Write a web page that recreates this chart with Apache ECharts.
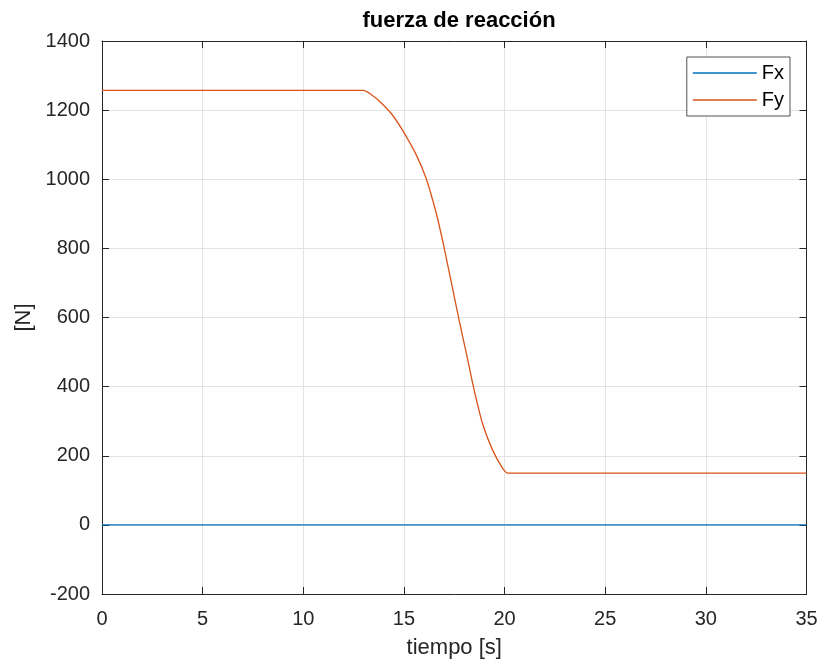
<!DOCTYPE html>
<html>
<head>
<meta charset="utf-8">
<script src="https://cdn.jsdelivr.net/npm/echarts@6/dist/echarts.min.js"></script>
<style>html,body{margin:0;padding:0;background:#fff;}#c{width:821px;height:664px;}</style>
</head>
<body>
<div id="c"></div>
<script>
const xTicks = [0, 5, 10, 15, 20, 25, 30, 35];
const yTicks = [-200, 0, 200, 400, 600, 800, 1000, 1200, 1400];
const tFx = [0, 35];
const fx = [0, 0];
const tFy = [0, 13, 13.4, 13.8, 14.4, 14.95, 15.6, 16.1, 16.6, 16.95, 17.2, 17.45, 17.75, 18.1, 18.45, 18.9, 19.4, 19.9, 20.15, 35];
const fy = [1257, 1257, 1244, 1225, 1188, 1140, 1072, 1003, 903, 815, 745, 675, 590, 497, 400, 294, 217, 164, 150, 150];

const font = 'Liberation Sans, Arial, Helvetica, sans-serif';
const axisColor = '#262626';
const chart = echarts.init(document.getElementById('c'));
chart.setOption({
  animation: false,
  backgroundColor: '#ffffff',
  title: {
    text: 'fuerza de reacción',
    left: 454, top: 5, textAlign: 'center',
    textStyle: { fontFamily: font, fontSize: 22, fontWeight: 'bold', color: '#000' }
  },
  legend: {
    orient: 'vertical',
    right: 31, top: 57,
    data: ['Fx', 'Fy'],
    icon: 'rect',
    itemWidth: 64, itemHeight: 1.5,
    itemGap: 7,
    padding: [6, 6, 6, 6],
    borderColor: axisColor, borderWidth: 0.8,
    backgroundColor: '#fff',
    textStyle: { fontFamily: font, fontSize: 20, color: '#000', padding: [0, 0, 0, 0] }
  },
  grid: { left: 102, top: 41, right: 14.5, bottom: 70, containLabel: false },
  xAxis: [{
    type: 'value', min: 0, max: 35, interval: 5,
    name: 'tiempo [s]', nameLocation: 'middle', nameGap: 43,
    nameTextStyle: { fontFamily: font, fontSize: 22, color: axisColor },
    axisLine: { show: true, onZero: false, lineStyle: { color: axisColor, width: 1 } },
    axisTick: { show: true, inside: true, length: 7, lineStyle: { color: axisColor } },
    axisLabel: { fontFamily: font, fontSize: 20, color: axisColor, margin: 15,
      formatter: v => xTicks.includes(v) ? String(v) : '' },
    splitLine: { show: true, lineStyle: { color: '#e3e3e3', width: 1 } }
  }, {
    type: 'value', position: 'top', min: 0, max: 35, interval: 5,
    axisLine: { show: true, onZero: false, lineStyle: { color: axisColor, width: 1 } },
    axisTick: { show: true, inside: true, length: 7, lineStyle: { color: axisColor } },
    axisLabel: { show: false }, splitLine: { show: false }
  }],
  yAxis: [{
    type: 'value', min: -200, max: 1400, interval: 200,
    name: '[N]', nameLocation: 'middle', nameGap: 67,
    nameTextStyle: { fontFamily: font, fontSize: 22, color: axisColor },
    axisLine: { show: true, onZero: false, lineStyle: { color: axisColor, width: 1 } },
    axisTick: { show: true, inside: true, length: 7, lineStyle: { color: axisColor } },
    axisLabel: { fontFamily: font, fontSize: 20, color: axisColor, margin: 12,
      formatter: v => yTicks.includes(v) ? String(v) : '' },
    splitLine: { show: true, lineStyle: { color: '#e3e3e3', width: 1 } }
  }, {
    type: 'value', position: 'right', min: -200, max: 1400, interval: 200,
    axisLine: { show: true, onZero: false, lineStyle: { color: axisColor, width: 1 } },
    axisTick: { show: true, inside: true, length: 7, lineStyle: { color: axisColor } },
    axisLabel: { show: false }, splitLine: { show: false }
  }],
  series: [{
    name: 'Fx', type: 'line', xAxisIndex: 0, yAxisIndex: 0,
    data: tFx.map((t, i) => [t, fx[i]]),
    showSymbol: false, symbol: 'none',
    lineStyle: { color: '#0072BD', width: 1.3 }, itemStyle: { color: '#0072BD' }
  }, {
    name: 'Fy', type: 'line', xAxisIndex: 0, yAxisIndex: 0,
    data: tFy.map((t, i) => [t, fy[i]]),
    showSymbol: false, symbol: 'none', smooth: 0.2,
    lineStyle: { color: '#D95319', width: 1.3 }, itemStyle: { color: '#D95319' }
  }]
});
</script>
</body>
</html>
